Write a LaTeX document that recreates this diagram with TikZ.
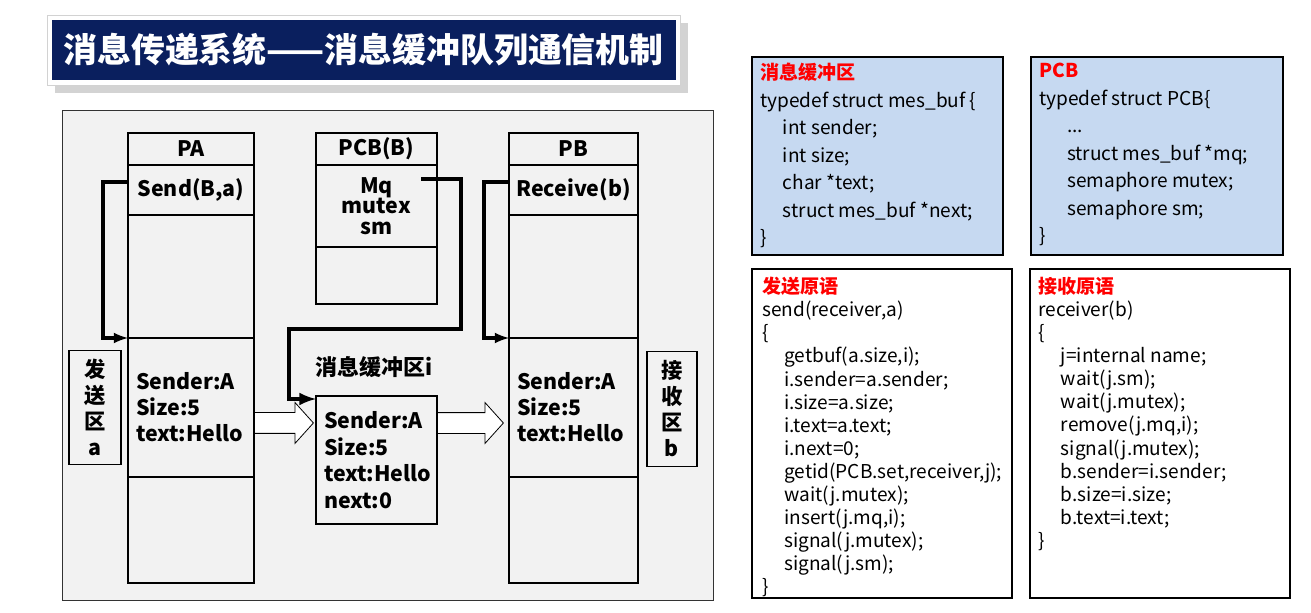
\documentclass[tikz,border=0pt]{standalone}
\usepackage{fontspec}
\setmainfont{Noto Sans CJK SC}
\usetikzlibrary{shapes,arrows,positioning,shadows}
\definecolor{titleblue}{RGB}{10,31,94}
\definecolor{panelgray}{RGB}{242,242,242}
\definecolor{codeblue}{RGB}{198,217,241}
\tikzset{cell/.style 2 args={draw=black, fill=panelgray, line width=0.8pt, minimum width=#1*0.75pt, minimum height=#2*0.75pt, inner sep=0pt, outer sep=0pt, font=\bfseries\fontsize{16}{19.5}\selectfont}}
\tikzset{sidebox/.style={draw=black, line width=0.8pt, minimum width=39pt, minimum height=86pt, inner sep=0pt, align=center, font=\bfseries\fontsize{16}{19.5}\selectfont}}
\tikzset{hollow arrow/.style={single arrow, draw=black, fill=white, line width=0.6pt, inner xsep=0pt, inner ysep=7.5pt, single arrow head extend=7.5pt, single arrow tip angle=96}}
\tikzset{codebox/.style 2 args={draw=black, line width=0.9pt, minimum width=#1*0.75pt, minimum height=#2*0.75pt, anchor=north west, inner sep=0pt, outer sep=0pt}}
\tikzset{codetext/.style={anchor=north west, align=left, inner sep=0pt}}
\newcommand{\hd}[1]{\textcolor{red}{\bfseries #1}}

\begin{document}
\begin{tikzpicture}[x=0.75pt, y=-0.75pt]
\useasboundingbox (0,0) rectangle (1311,613);
% title
\node[draw=gray!35, fill=white, minimum width=633*0.75pt, minimum height=70*0.75pt, inner sep=0pt, drop shadow={shadow xshift=6pt, shadow yshift=-6pt, opacity=0.35, fill=gray}] (titleframe) at (363.5,50) {};
\node[fill=titleblue, text=white, minimum width=624*0.75pt, minimum height=60*0.75pt, inner sep=0pt, font=\bfseries\fontsize{25.4}{30}\selectfont] (title) at (363.5,50) {消息传递系统——消息缓冲队列通信机制};

% left panel
\node[draw=black!80, fill=panelgray, line width=0.9pt, minimum width=651*0.75pt, minimum height=490*0.75pt, anchor=north west, inner sep=0pt] (panel) at (62,110) {};

% process A
\node[cell={126}{32}, anchor=north west] (pa) at (128,133) {PA};
\node[cell={126}{50}, below=0pt of pa] (pasend) {Send(B,a)};
\node[cell={126}{123}, below=0pt of pasend] (pafree) {};
\node[cell={126}{139}, below=0pt of pafree, align=left, text width=110*0.75pt] (pamsg) {Sender:A\\Size:5\\text:Hello};
\node[cell={126}{106}, below=0pt of pamsg] (pabottom) {};

% PCB of B
\node[cell={121}{32}, anchor=north west] (pcb) at (316,133) {PCB(B)};
\node[cell={121}{82}, below=0pt of pcb, align=center, font=\bfseries\fontsize{16}{15.5}\selectfont] (pcbvar) {Mq\\mutex\\sm};
\node[cell={121}{57}, below=0pt of pcbvar] (pcbfree) {};

% process B
\node[cell={129}{32}, anchor=north west] (pb) at (509,133) {PB};
\node[cell={129}{50}, below=0pt of pb] (pbrecv) {Receive(b)};
\node[cell={129}{123}, below=0pt of pbrecv] (pbfree) {};
\node[cell={129}{139}, below=0pt of pbfree, align=left, text width=113*0.75pt] (pbmsg) {Sender:A\\Size:5\\text:Hello};
\node[cell={129}{106}, below=0pt of pbmsg] (pbbottom) {};

% message buffer
\node[font=\bfseries\fontsize{16.5}{19.5}\selectfont, anchor=west, inner sep=0pt] (buflabel) at (315,367) {消息缓冲区i};
\node[cell={121}{128}, anchor=north west, align=left, text width=105*0.75pt, font=\bfseries\fontsize{16}{20}\selectfont] (buf) at (316,396) {Sender:A\\Size:5\\text:Hello\\next:0};

% send / receive areas
\node[sidebox] (sendarea) at (95,407.5) {发\\送\\区\\a};
\node[sidebox, minimum width=37.5pt] (recvarea) at (672,409) {接\\收\\区\\b};

% connectors
\draw[line width=2.6pt, -latex] ([yshift=6pt]pasend.west) -- ++(-25,0) |- (pamsg.north west);
\draw[line width=2.6pt, -latex] ([yshift=6pt]pbrecv.west) -- ++(-25,0) |- (pbmsg.north west);
\coordinate (mqptr) at (421,179);
\draw[line width=3.2pt, -latex] (mqptr) -| (461,329) -| (289,399) -- ([yshift=-2.25pt]buf.north west);
\node[hollow arrow, minimum height=59*0.75pt, anchor=tail] (copyin) at ([yshift=-11.6pt]pamsg.east) {};
\node[hollow arrow, minimum height=66*0.75pt, anchor=tail] (copyout) at ([yshift=27.75pt]buf.east) {};

% code boxes
\node[codebox={251}{198}, fill=codeblue] (cbuf) at (752,57) {};
\node[codebox={252}{198}, fill=codeblue] (cpcb) at (1031,57) {};
\node[codebox={260}{329}, fill=white] (csend) at (752,269) {};
\node[codebox={260}{329}, fill=white] (crecv) at (1030,269) {};

\node[codetext, font=\fontsize{14.3}{20.6}\selectfont] (tbuf) at ([shift={(8,6)}]cbuf.north west) {\hd{消息缓冲区}\\typedef struct mes\_buf \{\\\hspace*{17pt}int sender;\\\hspace*{17pt}int size;\\\hspace*{17pt}char *text;\\\hspace*{17pt}struct mes\_buf *next;\\\}};
\node[codetext, font=\fontsize{14.3}{20.6}\selectfont] (tpcb) at ([shift={(8,6)}]cpcb.north west) {\hd{PCB}\\typedef struct PCB\{\\\hspace*{21pt}...\\\hspace*{21pt}struct mes\_buf *mq;\\\hspace*{21pt}semaphore mutex;\\\hspace*{21pt}semaphore sm;\\\}};
\node[codetext, font=\fontsize{14.3}{17.3}\selectfont] (tsend) at ([shift={(10,8)}]csend.north west) {\hd{发送原语}\\send(receiver,a)\\\{\\\hspace*{16.5pt}getbuf(a.size,i);\\\hspace*{16.5pt}i.sender=a.sender;\\\hspace*{16.5pt}i.size=a.size;\\\hspace*{16.5pt}i.text=a.text;\\\hspace*{16.5pt}i.next=0;\\\hspace*{16.5pt}getid(PCB.set,receiver,j);\\\hspace*{16.5pt}wait(j.mutex);\\\hspace*{16.5pt}insert(j.mq,i);\\\hspace*{16.5pt}signal(j.mutex);\\\hspace*{16.5pt}signal(j.sm);\\\}};
\node[codetext, font=\fontsize{14.3}{17.3}\selectfont] (trecv) at ([shift={(8,8)}]crecv.north west) {\hd{接收原语}\\receiver(b)\\\{\\\hspace*{17pt}j=internal name;\\\hspace*{17pt}wait(j.sm);\\\hspace*{17pt}wait(j.mutex);\\\hspace*{17pt}remove(j.mq,i);\\\hspace*{17pt}signal(j.mutex);\\\hspace*{17pt}b.sender=i.sender;\\\hspace*{17pt}b.size=i.size;\\\hspace*{17pt}b.text=i.text;\\\}};
\end{tikzpicture}
\end{document}
